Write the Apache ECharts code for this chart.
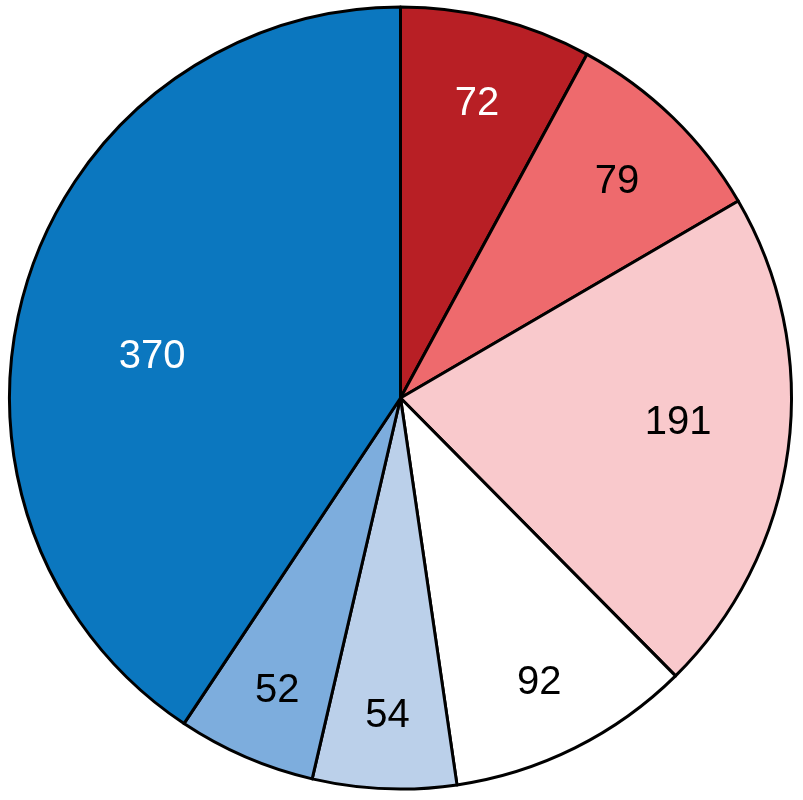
<!DOCTYPE html>
<html><head><meta charset="utf-8">
<script src="https://cdn.jsdelivr.net/npm/echarts@6/dist/echarts.min.js"></script>
<style>html,body{margin:0;padding:0;background:#fff}#c{width:803px;height:800px}</style>
</head><body><div id="c"></div>
<script>
const categories = ['A','B','C','D','E','F','G'];
const values = [72, 79, 191, 92, 54, 52, 370];
const colors = ['#B81F25','#EE6A6D','#F9C9CC','#FFFFFF','#BBD0EA','#7DADDD','#0B77BF'];
const labelColors = ['#fff','#000','#000','#000','#000','#000','#fff'];
// which overlay ring carries each label
const labelRing = [0,0,1,0,0,0,2];

const center = [400.5, 398];
const R = 391;
// overlay label rings: inner radius and vertical nudge of labels
const ringInner = [225, 163, 122];
const ringDy = [7, -12, 34];

const chart = echarts.init(document.getElementById('c'), null, {renderer:'canvas'});
const series = [{
  type: 'pie', center: center, radius: [0, R], startAngle: 90, clockwise: true,
  silent: true, label: {show: false}, labelLine: {show: false},
  itemStyle: {borderColor: '#000', borderWidth: 3},
  data: values.map((v,i) => ({name: categories[i], value: v, itemStyle: {color: colors[i]}}))
}];
ringInner.forEach((r0, k) => {
  series.push({
    type: 'pie', center: center, radius: [r0, R], startAngle: 90, clockwise: true,
    silent: true, labelLine: {show: false},
    itemStyle: {color: 'transparent', borderWidth: 0},
    label: {show: true, position: 'inside', formatter: '{c}', fontSize: 40,
            fontFamily: 'Liberation Sans, Arial, sans-serif'},
    labelLayout: {dy: ringDy[k]},
    data: values.map((v,i) => ({name: categories[i], value: v,
      label: {show: labelRing[i] === k, color: labelColors[i]}}))
  });
});
chart.setOption({animation: false, backgroundColor: '#fff', series: series});
</script></body></html>
